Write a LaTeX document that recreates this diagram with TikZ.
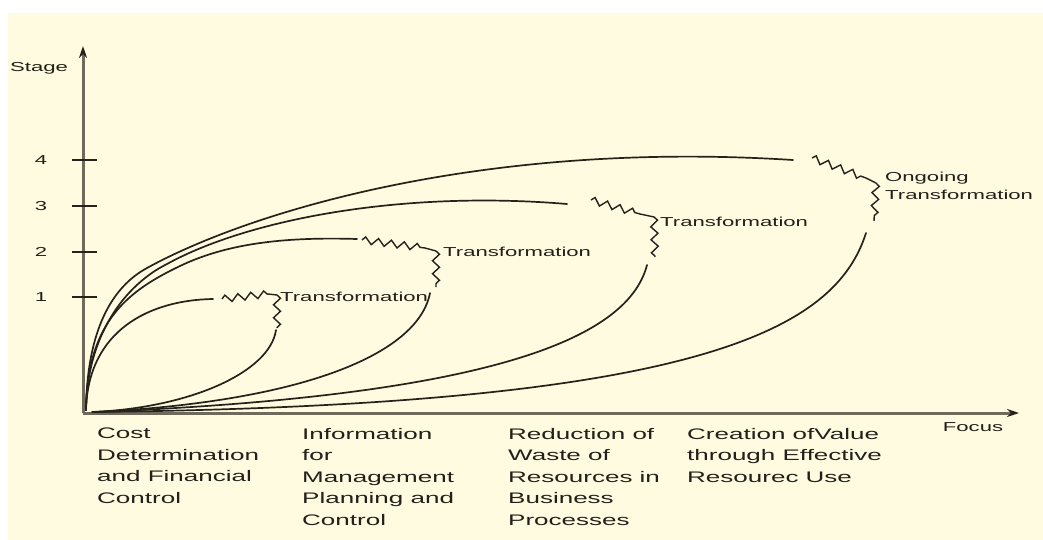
\documentclass[tikz,border=0pt]{standalone}
\usepackage{fontspec}
\setmainfont{Liberation Sans}[FakeStretch=1.7]
\usetikzlibrary{arrows.meta,decorations.pathmorphing}
\definecolor{cream}{RGB}{255,251,224}
\definecolor{ink}{RGB}{36,34,26}
\definecolor{axisc}{RGB}{112,106,90}
\definecolor{txt}{RGB}{34,32,26}
\begin{document}
\begin{tikzpicture}[x=1pt,y=-1pt,
  curve/.style={draw=ink, line width=1.7pt, line cap=round},
  zz/.style={draw=ink, line width=1.4pt, decorate, decoration={zigzag, segment length=13pt, amplitude=3.5pt}},
  link/.style={draw=ink, line width=1.4pt},
  axisline/.style={draw=axisc, line width=3pt},
  tickline/.style={draw=ink, line width=1.5pt},
  lbl/.style={text=txt, font=\fontsize{13}{18}\selectfont, inner sep=0pt},
  bottomlbl/.style={text=txt, font=\fontsize{15.3}{21.5}\selectfont, align=left, anchor=north west, inner sep=0pt}
]
\useasboundingbox (0,0) rectangle (1043,540);
\fill[white] (0,0) rectangle (1043,540);
\fill[cream] (8,13) rectangle (1043,540);

% axes
\coordinate (O) at (83,413);
\coordinate (ytop) at (83,46);
\coordinate (xend) at (1019,413);
\draw[axisline, -{Stealth[length=12pt,width=8pt,color=ink]}] (O) -- (ytop);
\draw[axisline, -{Stealth[length=12pt,width=8pt,color=ink]}] (O) -- (xend);

% ticks
\foreach \yy/\nm in {160/4,206/3,252/2,297/1}{
  \draw[tickline] (72,\yy) -- (97,\yy);
  \node[lbl] (tick\nm) at (41,\yy) {\nm};
}
\node[lbl] (stage) at (39,68) {Stage};
\node[lbl] (focus) at (973,427) {Focus};

% curve 1
\coordinate (s) at (86,410);
\draw[curve] (s) .. controls (88,330) and (150,300) .. (213,299);
\coordinate (z1a) at (222,299);
\coordinate (z1b) at (268,294);
\coordinate (z1k) at (277,295);
\coordinate (z1d) at (277,328);
\draw[zz] (z1a) -- (z1b);
\draw[link] (z1b) -- (z1k);
\draw[zz] (z1k) -- (z1d);
\draw[curve] (276,330) .. controls (270,372) and (190,408) .. (92,412);

% curve 2
\draw[curve] (s) .. controls (87,320) and (130,290) .. (180,266)
                 .. controls (230,242) and (290,237) .. (357,239);
\coordinate (z2a) at (362,240);
\coordinate (z2b) at (425,248);
\coordinate (z2k) at (436,251);
\coordinate (z2d) at (436,287);
\draw[zz] (z2a) -- (z2b);
\draw[link] (z2b) -- (z2k);
\draw[zz] (z2k) -- (z2d);
\draw[curve] (430,293) .. controls (418,355) and (300,402) .. (95,412);

% curve 3
\draw[curve] (s) .. controls (87,335) and (125,285) .. (167,264)
                 .. controls (247,220) and (400,190) .. (567,204);
\coordinate (z3a) at (591,200);
\coordinate (z3b) at (640,214);
\coordinate (z3k) at (654,217);
\coordinate (z3d) at (655,257);
\draw[zz] (z3a) -- (z3b);
\draw[link] (z3b) -- (z3k);
\draw[zz] (z3k) -- (z3d);
\draw[curve] (647,265) .. controls (630,330) and (520,395) .. (95,412);

% curve 4
\draw[curve] (s) .. controls (87,330) and (112,287) .. (147,268)
                 .. controls (247,213) and (480,140) .. (793,160);
\coordinate (z4a) at (812,158);
\coordinate (z4b) at (866,178);
\coordinate (z4k) at (876,183);
\coordinate (z4d) at (874,221);
\draw[zz] (z4a) -- (z4b);
\draw[link] (z4b) -- (z4k);
\draw[zz] (z4k) -- (z4d);
\draw[curve] (866,233) .. controls (835,330) and (700,405) .. (95,412);

% transformation labels
\node[lbl, anchor=west] (t1) at (280,297) {Transformation};
\node[lbl, anchor=west] (t2) at (443,252) {Transformation};
\node[lbl, anchor=west] (t3) at (660,222) {Transformation};
\node[lbl, anchor=west, align=left] (t4) at (885,186) {Ongoing\\Transformation};

% bottom labels
\node[bottomlbl] (b1) at (97,428) {Cost\\Determination\\and Financial\\Control};
\node[bottomlbl] (b2) at (302,428) {Information\\for\\Management\\Planning and\\Control};
\node[bottomlbl] (b3) at (508,428) {Reduction of\\Waste of\\Resources in\\Business\\Processes};
\node[bottomlbl] (b4) at (687,428) {Creation ofValue\\through Effective\\Resourec Use};
\end{tikzpicture}
\end{document}
